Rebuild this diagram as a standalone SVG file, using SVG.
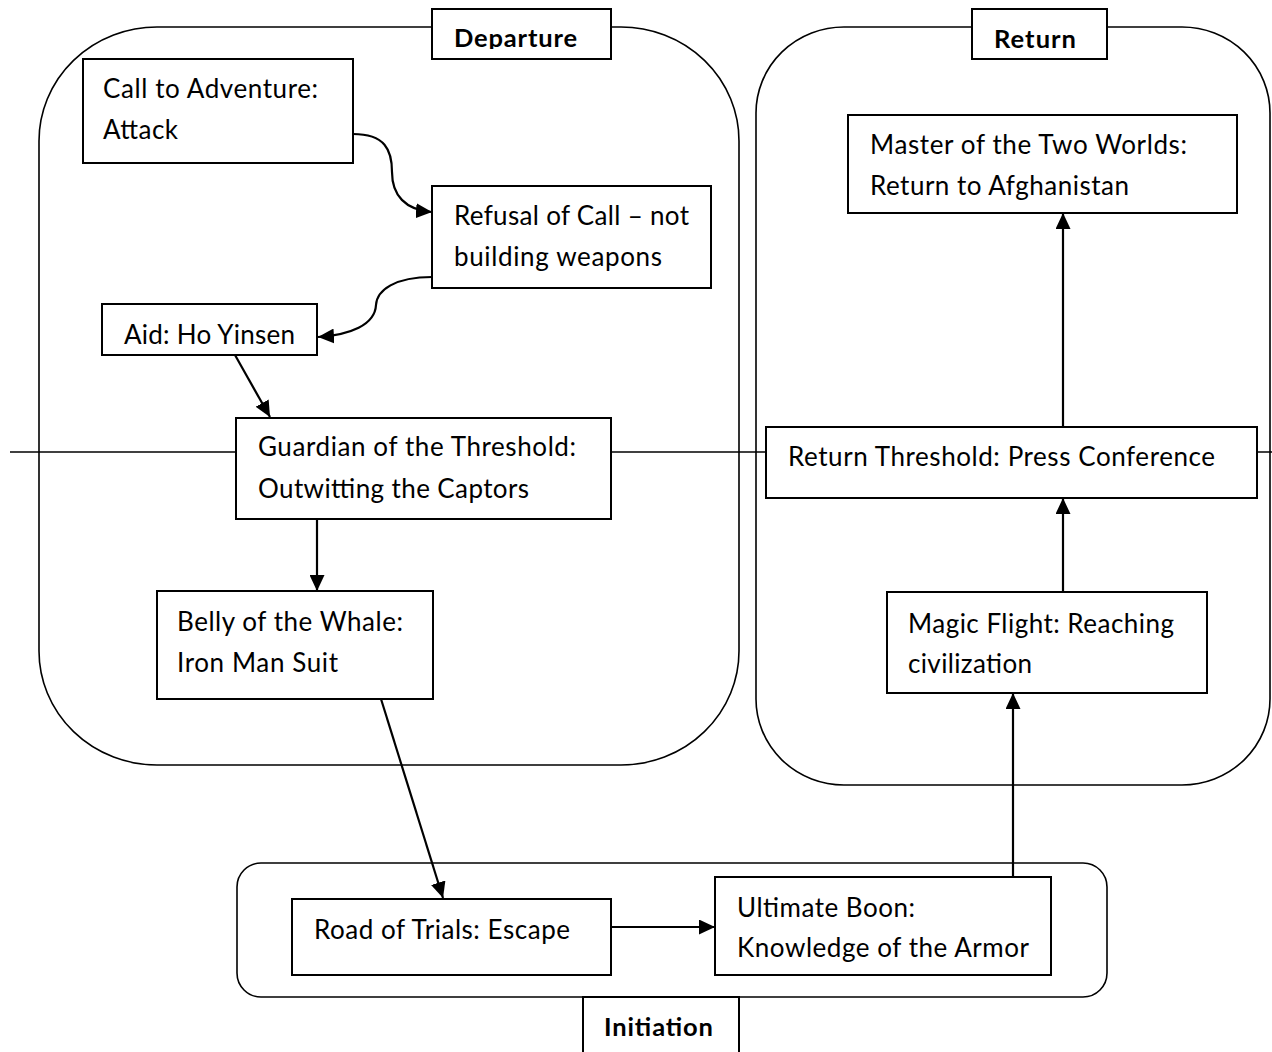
<svg xmlns="http://www.w3.org/2000/svg" width="1272" height="1052" viewBox="0 0 1272 1052">
<style>
  .container { fill: none; stroke: #000; stroke-width: 1.6; }
  .box { fill: #fff; stroke: #000; stroke-width: 2; }
  .label { fill: #fff; stroke: #000; stroke-width: 2; }
  .t { font-family: Lato, "Open Sans", sans-serif; font-size: 26px; fill: #000; }
  .h { font-family: Lato, "Open Sans", sans-serif; font-size: 25.5px; font-weight: bold; fill: #000; }
  .conn { fill: none; stroke: #000; stroke-width: 2.2; }
  .thresh { fill: none; stroke: #000; stroke-width: 1.4; }
</style>
<defs>
  <marker id="arr" viewBox="0 0 16 15" refX="16" refY="7.5" markerWidth="16" markerHeight="15" markerUnits="userSpaceOnUse" orient="auto">
    <path d="M0,0 L16,7.5 L0,15 z" fill="#000"/>
  </marker>
  <clipPath id="clipDep"><rect x="432" y="9" width="179" height="40"/></clipPath>
</defs>
<rect width="1272" height="1052" fill="#fff"/>
<g id="containers">
  <rect id="departure-area" class="container" x="39" y="27" width="700" height="738" rx="118" ry="114"/>
  <rect id="return-area" class="container" x="756" y="27" width="514" height="758" rx="88" ry="86"/>
  <rect id="initiation-area" class="container" x="237" y="863" width="870" height="134" rx="24" ry="24"/>
</g>
<line id="threshold-line" class="thresh" x1="10" y1="452" x2="1272" y2="452"/>
<g id="connectors">
  <path class="conn" d="M353,134 C385,134 392,150 392,172 C392,195 405,210 432,212" marker-end="url(#arr)"/>
  <path class="conn" d="M432,277 C395,277 377,290 376,305 C375,325 350,335 318,337" marker-end="url(#arr)"/>
  <path class="conn" d="M235,355 L270,417" marker-end="url(#arr)"/>
  <path class="conn" d="M317,519 L317,591" marker-end="url(#arr)"/>
  <path class="conn" d="M381,699 L443,898" marker-end="url(#arr)"/>
  <path class="conn" d="M611,927 L715,927" marker-end="url(#arr)"/>
  <path class="conn" d="M1013,877 L1013,693" marker-end="url(#arr)"/>
  <path class="conn" d="M1063,592 L1063,498" marker-end="url(#arr)"/>
  <path class="conn" d="M1063,427 L1063,213" marker-end="url(#arr)"/>
</g>
<g id="label-departure">
  <rect class="label" x="432" y="9" width="179" height="50"/>
  <text class="h" x="454" y="47" textLength="123" clip-path="url(#clipDep)">Departure</text>
</g>
<g id="label-return">
  <rect class="label" x="972" y="9" width="135" height="50"/>
  <text class="h" x="994" y="48" textLength="82">Return</text>
</g>
<g id="label-initiation">
  <rect class="label" x="583" y="997" width="156" height="70"/>
  <text class="h" x="604" y="1036" textLength="109">Initiation</text>
</g>
<g id="call-to-adventure">
  <rect class="box" x="83" y="59" width="270" height="104"/>
  <text class="t" x="103" y="98" textLength="215">Call to Adventure:</text>
  <text class="t" x="103" y="139" textLength="75">Attack</text>
</g>
<g id="refusal-of-call">
  <rect class="box" x="432" y="186" width="279" height="102"/>
  <text class="t" x="454" y="225" textLength="235">Refusal of Call – not</text>
  <text class="t" x="454" y="266" textLength="208">building weapons</text>
</g>
<g id="aid">
  <rect class="box" x="102" y="304" width="215" height="51"/>
  <text class="t" x="124" y="344" textLength="171">Aid: Ho Yinsen</text>
</g>
<g id="guardian">
  <rect class="box" x="236" y="418" width="375" height="101"/>
  <text class="t" x="258" y="456" textLength="318">Guardian of the Threshold:</text>
  <text class="t" x="258" y="498" textLength="271">Outwitting the Captors</text>
</g>
<g id="belly">
  <rect class="box" x="157" y="591" width="276" height="108"/>
  <text class="t" x="177" y="631" textLength="226">Belly of the Whale:</text>
  <text class="t" x="177" y="672" textLength="161">Iron Man Suit</text>
</g>
<g id="road-of-trials">
  <rect class="box" x="292" y="899" width="319" height="76"/>
  <text class="t" x="314" y="939" textLength="256">Road of Trials: Escape</text>
</g>
<g id="ultimate-boon">
  <rect class="box" x="715" y="877" width="336" height="98"/>
  <text class="t" x="737" y="917" textLength="178">Ultimate Boon:</text>
  <text class="t" x="737" y="957" textLength="292">Knowledge of the Armor</text>
</g>
<g id="magic-flight">
  <rect class="box" x="887" y="592" width="320" height="101"/>
  <text class="t" x="908" y="633" textLength="266">Magic Flight: Reaching</text>
  <text class="t" x="908" y="673" textLength="124">civilization</text>
</g>
<g id="return-threshold">
  <rect class="box" x="766" y="427" width="491" height="71"/>
  <text class="t" x="788" y="466" textLength="427">Return Threshold: Press Conference</text>
</g>
<g id="master">
  <rect class="box" x="848" y="115" width="389" height="98"/>
  <text class="t" x="870" y="154" textLength="317">Master of the Two Worlds:</text>
  <text class="t" x="870" y="195" textLength="259">Return to Afghanistan</text>
</g>
</svg>
